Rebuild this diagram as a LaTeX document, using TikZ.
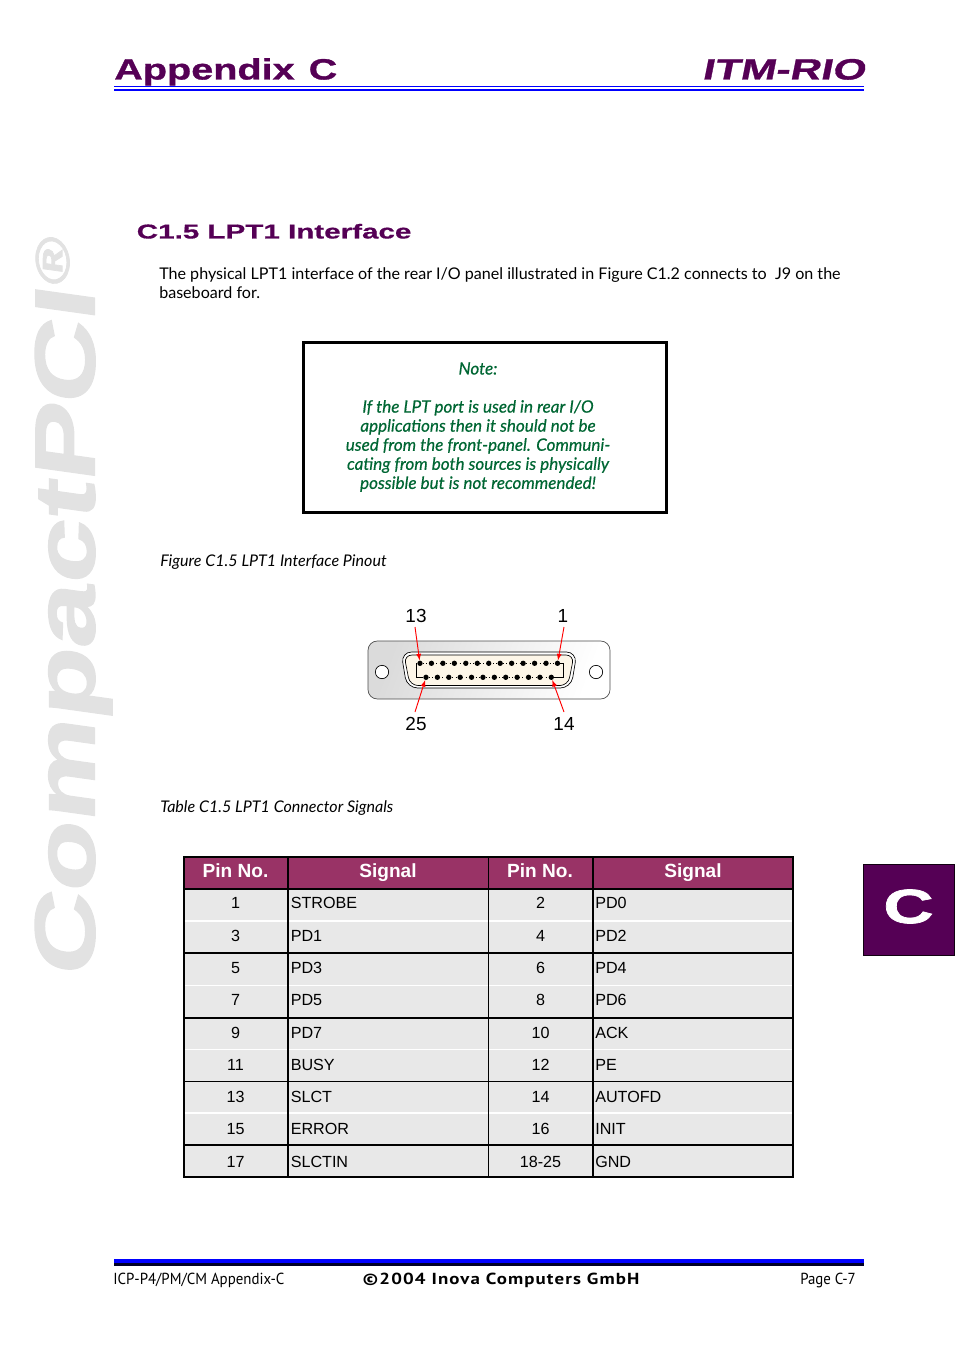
\documentclass[tikz,border=0pt]{standalone}
\usepackage{fontspec}
\setmainfont{Lato}
\newfontfamily\headfont[FakeStretch=1.35,FakeBold=1]{Liberation Sans Bold}
\newfontfamily\sectfont[FakeStretch=1.47,FakeBold=0.6]{Liberation Sans Bold}
\newfontfamily\tabcfont[FakeStretch=1.45,FakeBold=1.5]{Liberation Sans Bold}
\newfontfamily\itmfont[FakeStretch=1.45,FakeSlant=0.2,FakeBold=1]{Liberation Sans Bold}
\newfontfamily\wmfont[FakeStretch=1.355,FakeBold=1.5]{Liberation Sans Bold}
\newfontfamily\notefont[ItalicFeatures={FakeBold=0.5}]{Lato}
\newfontfamily\tabfont{Liberation Sans}
\newfontfamily\footfont{PT Sans}
\newfontfamily\footbold[FakeStretch=1.18,LetterSpace=7]{PT Sans Bold}
\definecolor{headpurple}{HTML}{550055}
\definecolor{rowgrey}{HTML}{E8E8E8}
\definecolor{headrow}{HTML}{993366}
\definecolor{notegreen}{HTML}{006633}
\definecolor{wmgrey}{HTML}{E2E2E2}
\definecolor{connfill}{HTML}{FDF6E8}
\tikzset{
  headtext/.style={inner sep=0pt,text=headpurple,font=\headfont},
  bodytext/.style={inner sep=0pt,anchor=west,font=\fontsize{12.07}{14.3}\selectfont},
  figcap/.style={inner sep=0pt,anchor=west,font=\fontsize{12.05}{14}\selectfont\itshape},
  pintext/.style={inner sep=0pt,font=\tabfont\fontsize{14.2}{16}\selectfont},
  cellc/.style={inner sep=0pt,font=\tabfont\fontsize{12.1}{14}\selectfont},
  celll/.style={cellc,anchor=west},
  cellh/.style={inner sep=0pt,anchor=base,text=white,font=\tabfont\bfseries\fontsize{14.3}{16}\selectfont},
  pin/.style={circle,fill=black,inner sep=0pt,minimum size=4pt},
  pinarrow/.style={red,line width=0.7pt,-latex},
  hole/.style={draw,circle,fill=white,line width=0.5pt,minimum size=10pt,inner sep=0pt},
}
\begin{document}
\begin{tikzpicture}[x=0.75pt,y=-0.75pt]
\useasboundingbox (0,0) rectangle (954,1351);
% header and footer
\node[headtext,anchor=base west,font=\headfont\fontsize{22}{22}\selectfont] (title) at (114,79.5) {Appendix\hspace{10.5pt}C};
\node[headtext,anchor=base east,font=\itmfont\fontsize{22}{22}\selectfont] (product) at (865,79.5) {ITM-RIO};
\draw[blue,line width=0.75pt] (114,87) -- (864,87);
\draw[blue,line width=1.5pt] (114,90) -- (864,90);
\draw[blue,line width=3pt] (114,1261) -- (864,1261);
\draw[black!85!blue,line width=2pt] (114,1264.5) -- (864,1264.5);
\node[inner sep=0pt,anchor=base west,font=\footfont\fontsize{12}{14}\selectfont,xscale=0.93] (footl) at (113,1284) {ICP-P4/PM/CM Appendix-C};
\node[inner sep=0pt,anchor=base,font=\footbold\fontsize{12}{14}\selectfont] (footc) at (501,1284) {©2004 Inova Computers GmbH};
\node[inner sep=0pt,anchor=base east,font=\footfont\fontsize{12}{14}\selectfont,xscale=0.93] (footr) at (856,1284) {Page C-7};
% watermark
\node[inner sep=0pt,anchor=base west,rotate=90,xslant=0.14,text=wmgrey,font=\wmfont\fontsize{64}{64}\selectfont] (wm) at (94.5,978) {CompactPCI\raisebox{19pt}{\fontsize{36}{36}\selectfont®}};
% side tab
\fill[headpurple,draw=black!80!headpurple,line width=0.5pt] (863,864) rectangle (954,955);
\node[inner sep=0pt,text=white,font=\tabcfont\fontsize{36}{36}\selectfont] (tab) at (908.5,906.5) {C};
% text
\node[headtext,anchor=base west,font=\sectfont\fontsize{15.1}{15}\selectfont] (sect) at (136.5,238.5) {C1.5 LPT1 Interface};
\node[bodytext] (para1) at (159,275) {The physical LPT1 interface of the rear I/O panel illustrated in Figure C1.2 connects to\ \ J9 on the};
\node[bodytext] (para2) at (159,293) {baseboard for.};
% note
\node[draw,line width=2.4pt,minimum width=272.2pt,minimum height=127.2pt,inner sep=0pt] (notebox) at (485,427.5) {};
\node[inner sep=0pt,text=notegreen,align=center,anchor=north,font=\notefont\fontsize{12.8}{14.3}\selectfont\itshape] (note) at (478,362) {Note:\\[14.3pt]If the LPT port is used in rear I/O\\applications then it should not be\\used from the front-panel. Communi-\\cating from both sources is physically\\possible but is not recommended!};
\node[figcap] (figcap) at (160,562) {Figure C1.5 LPT1 Interface Pinout};
\node[figcap] (tabcap) at (160,808) {Table C1.5 LPT1 Connector Signals};
% connector
\shade[draw=black!70,line width=0.5pt,rounded corners=7pt,left color=black!14,right color=white,shading angle=70] (368,641) rectangle (610,699);
\node[hole] (holel) at (382,672) {};
\node[hole] (holer) at (596,672) {};
\draw[fill=white,line width=0.5pt,rounded corners=8pt] (401,652) -- (577,652) -- (571,688) -- (407,688) -- cycle;
\draw[fill=connfill,line width=0.5pt,rounded corners=6pt] (404,655) -- (574,655) -- (568,685.5) -- (410,685.5) -- cycle;
\foreach \i in {1,...,13} \node[pin] (p\i) at ({557.5-(\i-1)*11.46},663.3) {};
\foreach \i in {14,...,25} \node[pin] (p\i) at ({551.3-(\i-14)*11.39},677.3) {};
\draw[line width=0.5pt,dotted] (p13) -- (p1);
\draw[line width=0.5pt,dotted] (p25) -- (p14);
\draw[line width=0.5pt] (p13) -| (416,677.3) -- (p25);
\draw[line width=0.5pt] (p1) -| (563.5,677.3) -- (p14);
\node[pintext] (l13) at (416,616) {13};
\node[pintext] (l1) at (563,616) {1};
\node[pintext] (l25) at (416,724) {25};
\node[pintext] (l14) at (564,724) {14};
\coordinate (a13) at (415,627);
\coordinate (a1) at (564,627);
\coordinate (a25) at (415,712);
\coordinate (a14) at (564,712);
\draw[pinarrow] (a13) -- (p13);
\draw[pinarrow] (a1) -- (p1);
\draw[pinarrow] (a25) -- (p25);
\draw[pinarrow] (a14) -- (p14);
% table
\fill[headrow] (184,857) rectangle (793,889);
\fill[rowgrey] (184,889) rectangle (793,1177);
\foreach \y in {921,1113} \draw[white,line width=1.3pt] (184,\y) -- (793,\y);
\foreach \y in {985,1049} \draw[white,line width=0.75pt] (184,\y) -- (793,\y);
\foreach \y in {889,953,1018,1145} \draw[line width=1.3pt] (184,\y) -- (793,\y);
\draw[line width=0.75pt] (184,1081) -- (793,1081);
\draw[line width=1.5pt] (184,857) rectangle (793,1177);
\foreach \x in {288,593} \draw[line width=1.3pt] (\x,857) -- (\x,1177);
\draw[line width=0.75pt] (488.5,857) -- (488.5,1177);
\foreach \x/\t [count=\n] in {235.5/Pin No.,388/Signal,540/Pin No.,693/Signal} \node[cellh] (h\n) at (\x,877) {\t};
\foreach \y/\pa/\sa/\pb/\sb [count=\n] in {
  903/1/STROBE/2/PD0,
  936/3/PD1/4/PD2,
  968/5/PD3/6/PD4,
  1000/7/PD5/8/PD6,
  1033/9/PD7/10/ACK,
  1065/11/BUSY/12/PE,
  1097/13/SLCT/14/AUTOFD,
  1129/15/ERROR/16/INIT,
  1162/17/SLCTIN/18-25/GND}{
  \node[cellc] (a\n) at (235.5,\y) {\pa};
  \node[celll] (b\n) at (290.5,\y) {\sa};
  \node[cellc] (c\n) at (540.5,\y) {\pb};
  \node[celll] (d\n) at (595,\y) {\sb};
}
\end{tikzpicture}
\end{document}
